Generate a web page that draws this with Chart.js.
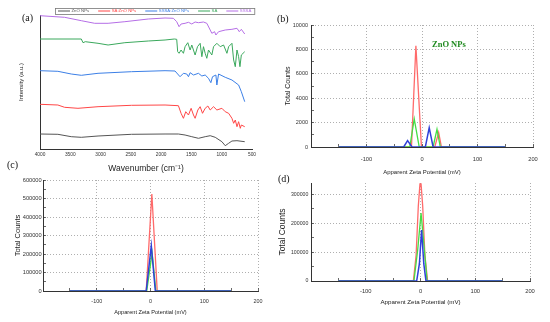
<!DOCTYPE html>
<html><head><meta charset="utf-8">
<script src="https://cdn.jsdelivr.net/npm/chart.js@4.4.0/dist/chart.umd.min.js"></script>
<style>
html,body{margin:0;padding:0;background:#fff;}
body{width:550px;height:322px;position:relative;overflow:hidden;}
canvas{position:absolute;}
.lbl{position:absolute;font-family:"Liberation Serif","DejaVu Serif",serif;font-size:10px;line-height:10px;color:#111;}
</style></head><body>
<canvas id="ca" width="275" height="176" style="left:0;top:0"></canvas>
<canvas id="cb" width="275" height="176" style="left:275px;top:0"></canvas>
<canvas id="cc" width="275" height="162" style="left:0;top:160px"></canvas>
<canvas id="cd" width="275" height="162" style="left:275px;top:160px"></canvas>
<div class="lbl" style="left:22px;top:13px">(a)</div>
<div class="lbl" style="left:277px;top:14px">(b)</div>
<div class="lbl" style="left:7px;top:160px">(c)</div>
<div class="lbl" style="left:278px;top:174px">(d)</div>
<script>
// ---------- (a) FTIR data: wavenumber (cm-1) and relative intensity (a.u.) ----------
const znoWn   = [4000,3705,3484,3318,3042,2489,1936,1715,1605,1494,1384,1273,1190,1107,997,942,886,831,748,620];
const znoInt  = [15,14.7,12.3,11.7,13,14.7,15,15,14,12.3,10.7,12.3,13.3,11.7,7.3,3.3,5.7,8,8.3,7.3];

const saZnoWn  = [4000,3705,3594,3373,3042,2489,1936,1715,1671,1632,1594,1549,1505,1466,1439,1394,1356,1317,1273,1229,1190,1135,1080,997,942,886,831,803,776,748,721,693,676,620];
const saZnoInt = [44.7,44,41.7,40.7,42.3,43.7,44,43.3,35.7,30.7,37.3,34,40.7,34,30.7,39,42.3,35.7,40.7,43,39,42.3,39,40.7,37.3,35.7,30.7,25.7,29,22.3,27.3,20.7,24,22.3];

const sssaZnoWn  = [4000,3705,3484,3318,3042,2489,1936,1771,1688,1632,1577,1549,1522,1466,1384,1328,1273,1218,1179,1152,1096,1080,1052,942,831,721,676,620];
const sssaZnoInt = [78.3,77.7,75,73.7,75.7,77.3,78.3,78,72.3,75.7,75,72.3,76.3,74,75.7,73,74,70.7,66.3,72.3,74,64,75,71.7,69,64,57.3,47.3];

const saWn  = [4000,3318,3290,3252,3042,2876,2599,2213,1936,1782,1743,1727,1704,1671,1632,1605,1560,1522,1494,1439,1400,1356,1328,1301,1273,1246,1218,1163,1135,1080,1024,969,914,886,831,803,776,748,721,699,676,620];
const saInt = [110,110,106.3,107.3,105.7,104,106.3,108,109,110,109.7,97.3,95.7,99,95.7,102.3,106.3,99,104,94,102.3,105.7,92.3,102.3,95.7,90.7,99,94,102.3,105.7,102.3,104,95.7,102.3,105.7,89,82.3,99,92.3,82.3,94,97.3];

const sssaWn  = [4000,3594,3318,3097,2876,2599,2213,1936,1798,1743,1704,1671,1605,1549,1494,1439,1384,1301,1246,1190,1163,1118,1096,1052,942,831,748,710,676,620];
const sssaInt = [133.3,131.7,128.3,125.7,125.7,127.3,130,131,130.7,127.3,122.3,125,125.7,126.7,125,127,126.3,127,125.7,119,115.7,117.3,114,117.3,119,119.7,120.7,117.3,119.7,115];

const ftirLabels = ['ZnO NPs','SA:ZnO NPs','SSSA:ZnO NPs','SA','SSSA'];
const ftirXTicks = [4000,3500,3000,2500,2000,1500,1000,500];

// ---------- (b) zeta potential: ZnO NPs ----------
const bRedMv = [-150,-19,-11,-1,23,30,35,150];
const bRedCounts = [0,0,8300,0,0,1200,0,0];
const bGreenMv = [-150,-22,-14,-5,20,27,33,150];
const bGreenCounts = [0,0,2300,0,0,1450,0,0];
const bBlueMv = [-150,-33,-26,-18,6,13,20,150];
const bBlueCounts = [0,0,520,0,0,1580,0,0];
const bYTicks = [0,2000,4000,6000,8000,10000];
const bNote = 'ZnO NPs';
const bNoteAt = [18, 8350];

// ---------- (c) ----------
const cRedMv = [-150,-8,2.5,12.5,150];
const cRedCounts = [0,0,524000,0,0];
const cGreenMv = [-150,-7,3,10,150];
const cGreenCounts = [0,0,205000,0,0];
const cBlueMv = [-150,-8,1.5,9,150];
const cBlueCounts = [0,0,245000,0,0];
const cYTicks = [0,100000,200000,300000,400000,500000,600000];

// ---------- (d) ----------
const dRedMv = [-150,-13,-8,-4,-1,1,4,8,13,150];
const dRedCounts = [0,0,90000,260000,337000,337000,260000,90000,0,0];
const dGreenMv = [-150,-12,-5,1,7,12,150];
const dGreenCounts = [0,0,110000,236000,110000,0,0];
const dBlueMv = [-150,-7,-2,2,6,10,150];
const dBlueCounts = [0,0,60000,177000,60000,0,0];
const dYTicks = [0,100000,200000,300000];

const zetaXTicks = [-100,0,100,200];
const runLabels = ['Run 1','Run 2','Run 3'];

// ---------- helpers ----------
const pts = (xs, ys) => xs.map((x, i) => ({x: x, y: ys[i]}));
const FR = '"Liberation Sans",Arial,sans-serif';
const GRID = '#9a9a9a';
const CLEAR = 'rgba(0,0,0,0)';
Chart.defaults.font.family = FR;

const ftirLegend = {
  id: 'ftirLegend',
  afterDraw(chart) {
    const ctx = chart.ctx;
    ctx.save();
    ctx.font = '4.3px ' + FR;
    ctx.textBaseline = 'middle';
    const start = 55, y = 11, lineLen = 12, gap = 9;
    let x = start + 3;
    chart.data.datasets.forEach(ds => {
      ctx.strokeStyle = ds.borderColor; ctx.lineWidth = 1;
      ctx.beginPath(); ctx.moveTo(x, y); ctx.lineTo(x + lineLen, y); ctx.stroke();
      ctx.fillStyle = ds.borderColor;
      ctx.fillText(ds.label, x + lineLen + 1.5, y);
      x += lineLen + 1.5 + ctx.measureText(ds.label).width + gap;
    });
    ctx.strokeStyle = '#777'; ctx.lineWidth = 0.8;
    ctx.strokeRect(start + 0.5, 8.5, (x - gap + 3) - start, 6);
    ctx.restore();
  }
};

const ftirColors = ['#555555','#ff4646','#3b7fe6','#3aa85c','#b56ee6'];
const ftirSeries = [[znoWn,znoInt],[saZnoWn,saZnoInt],[sssaZnoWn,sssaZnoInt],[saWn,saInt],[sssaWn,sssaInt]];

new Chart(document.getElementById('ca'), {
  type: 'line',
  data: { datasets: ftirSeries.map((s, i) => ({
    label: ftirLabels[i], data: pts(s[0], s[1]), borderColor: ftirColors[i], borderWidth: 1
  })) },
  options: {
    responsive: false, animation: false, devicePixelRatio: 1,
    layout: { padding: { top: 15, right: 23, left: 0, bottom: 0 } },
    elements: { point: { radius: 0 }, line: { tension: 0 } },
    plugins: { legend: { display: false }, tooltip: { enabled: false } },
    scales: {
      x: { type: 'linear', reverse: true, min: 500, max: 4000,
        afterFit: s => { s.height = 27; },
        afterBuildTicks: s => { s.ticks = ftirXTicks.map(v => ({ value: v })); },
        grid: { display: false, drawTicks: false },
        border: { color: '#333', width: 1 },
        ticks: { autoSkip: false, maxRotation: 0, padding: 3,
          font: { size: 4.8 }, color: '#333', callback: v => String(v) },
        title: { display: true, text: 'Wavenumber (cm⁻¹)', font: { size: 8.5 }, color: '#222',
          padding: { top: 0, bottom: 2 } } },
      y: { min: 0, max: 134,
        afterFit: s => { s.width = 40; },
        grid: { display: false },
        border: { color: '#333', width: 1 },
        ticks: { display: false },
        title: { display: true, text: 'Intensity (a.u.)', font: { size: 6 }, color: '#222',
          padding: { top: 18, bottom: 0 } } }
    }
  },
  plugins: [ftirLegend]
});

const noteB = {
  id: 'noteB',
  afterDatasetsDraw(chart) {
    const ctx = chart.ctx;
    ctx.save();
    ctx.font = 'bold 8.5px "Liberation Serif","DejaVu Serif",serif';
    ctx.fillStyle = '#1f8a1f';
    ctx.textBaseline = 'middle';
    ctx.fillText(bNote, chart.scales.x.getPixelForValue(bNoteAt[0]), chart.scales.y.getPixelForValue(bNoteAt[1]));
    ctx.restore();
  }
};

const zetaColors = { red: 'rgba(255,90,90,0.9)', green: '#44dd44', blue: '#3040d8' };

function steppedTicks(lo, hi, step) {
  const out = [];
  for (let v = lo; v <= hi + step * 1e-6; v += step) out.push({ value: v });
  return out;
}

function zetaChart(id, sets, cfg) {
  const gridFor = majors => ({
    color: c => (c.tick && majors.includes(c.tick.value)) ? GRID : CLEAR,
    lineWidth: 0.8, tickLength: -3, tickColor: '#444', tickWidth: 0.8
  });
  const xMajors = [-200].concat(zetaXTicks);
  return new Chart(document.getElementById(id), {
    type: 'line',
    data: { datasets: sets.map((s, i) => ({
      label: runLabels[i], data: pts(s.mv, s.counts), borderColor: s.color,
      borderWidth: s.width, order: s.order
    })) },
    options: {
      responsive: false, animation: false, devicePixelRatio: 1,
      layout: { padding: { top: cfg.top, right: cfg.right, left: 0, bottom: 0 } },
      elements: { point: { radius: 0 }, line: { tension: 0 } },
      plugins: { legend: { display: false }, tooltip: { enabled: false } },
      scales: {
        x: { type: 'linear', min: -200, max: 200,
          afterFit: s => { s.height = cfg.xh; },
          afterBuildTicks: s => { s.ticks = steppedTicks(-200, 200, 50); },
          grid: gridFor(xMajors),
          border: { color: '#333', width: 1, dash: [1, 2] },
          ticks: { autoSkip: false, maxRotation: 0, padding: cfg.xpad,
            font: { size: cfg.xfs }, color: '#333',
            callback: v => zetaXTicks.includes(v) ? String(v) : '' },
          title: { display: true, text: 'Apparent Zeta Potential (mV)',
            font: { size: cfg.xtfs }, color: '#222',
            padding: { top: 0, bottom: cfg.xtpb } } },
        y: { min: 0, max: cfg.ymax,
          afterFit: s => { s.width = cfg.yw; },
          afterBuildTicks: s => { s.ticks = steppedTicks(0, cfg.ymax, cfg.ystep); },
          grid: gridFor(cfg.yticks),
          border: { color: '#333', width: 1, dash: [1, 2] },
          ticks: { autoSkip: false, padding: cfg.ypad,
            font: { size: cfg.yfs }, color: '#333',
            callback: v => cfg.yticks.includes(v) ? String(v) : '' },
          title: { display: true, text: 'Total Counts', font: { size: cfg.ytfs }, color: '#222',
            padding: { top: cfg.ytpt, bottom: 0 } } }
      }
    },
    plugins: cfg.plugins || []
  });
}

zetaChart('cb', [
  { mv: bRedMv, counts: bRedCounts, color: zetaColors.red, width: 1.3, order: 2 },
  { mv: bGreenMv, counts: bGreenCounts, color: zetaColors.green, width: 1.3, order: 1 },
  { mv: bBlueMv, counts: bBlueCounts, color: zetaColors.blue, width: 1.5, order: 0 }
], { top: 25, right: 17, xh: 29, yw: 36, xpad: 11.6, ypad: 6, xfs: 5.7, yfs: 5.5, xtfs: 6, xtpb: 0.4,
     ymax: 10000, ystep: 1000, yticks: bYTicks, ytfs: 7, ytpt: 9, plugins: [noteB] });

zetaChart('cc', [
  { mv: cRedMv, counts: cRedCounts, color: zetaColors.red, width: 1.3, order: 2 },
  { mv: cGreenMv, counts: cGreenCounts, color: zetaColors.green, width: 1.3, order: 1 },
  { mv: cBlueMv, counts: cBlueCounts, color: zetaColors.blue, width: 1.5, order: 0 }
], { top: 20, right: 17, xh: 31, yw: 43, xpad: 9.8, ypad: 4.3, xfs: 5.4, yfs: 5.7, xtfs: 5.6, xtpb: 6.6,
     ymax: 600000, ystep: 50000, yticks: cYTicks, ytfs: 7.5, ytpt: 13 });

zetaChart('cd', [
  { mv: dRedMv, counts: dRedCounts, color: zetaColors.red, width: 1.3, order: 2 },
  { mv: dGreenMv, counts: dGreenCounts, color: zetaColors.green, width: 1.3, order: 1 },
  { mv: dBlueMv, counts: dBlueCounts, color: zetaColors.blue, width: 1.5, order: 0 }
], { top: 23, right: 20, xh: 41, yw: 36, xpad: 10.2, ypad: 5.7, xfs: 5.8, yfs: 5.2, xtfs: 6.2, xtpb: 16.3,
     ymax: 340000, ystep: 50000, yticks: dYTicks, ytfs: 8.5, ytpt: 3 });
</script>
</body></html>
